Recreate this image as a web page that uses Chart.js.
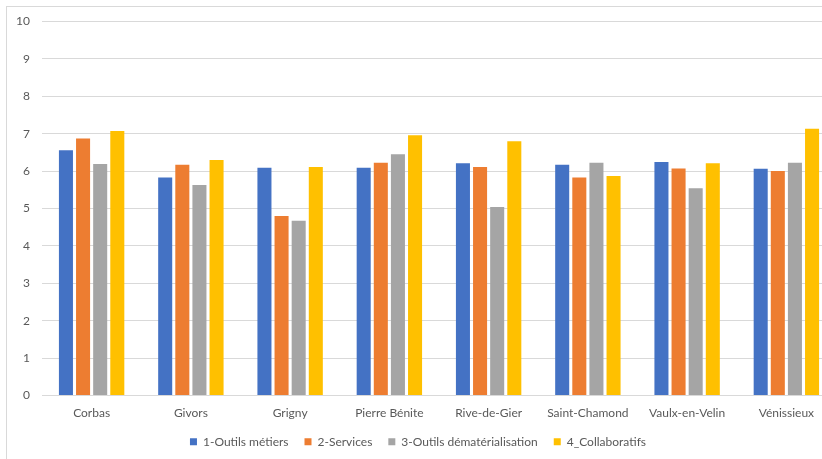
<!DOCTYPE html>
<html>
<head>
<meta charset="utf-8">
<script src="https://cdn.jsdelivr.net/npm/chart.js@4/dist/chart.umd.min.js"></script>
<style>
  body { margin: 0; overflow: hidden; background: #fff; }
  #frame { position: absolute; left: 6px; top: 6px; width: 900px; height: 500px; border: 1px solid #d9d9d9; }
  #myChart { position: absolute; left: 0; top: 0; }
</style>
</head>
<body>
<div id="frame"></div>
<canvas id="myChart" width="840" height="465"></canvas>
<script>
var villes = ['Corbas', 'Givors', 'Grigny', 'Pierre Bénite', 'Rive-de-Gier', 'Saint-Chamond', 'Vaulx-en-Velin', 'Vénissieux'];
var outilsMetiers = [6.56, 5.83, 6.09, 6.09, 6.21, 6.17, 6.24, 6.06];
var services = [6.87, 6.17, 4.80, 6.22, 6.11, 5.83, 6.07, 6.00];
var dematerialisation = [6.19, 5.63, 4.67, 6.45, 5.04, 6.22, 5.54, 6.22];
var collaboratifs = [7.07, 6.30, 6.11, 6.96, 6.80, 5.87, 6.21, 7.13];

Chart.defaults.font.family = 'Lato, "Liberation Sans", sans-serif';
Chart.defaults.font.size = 12;
Chart.defaults.color = '#595959';

var ctx = document.getElementById('myChart');
var myChart = new Chart(ctx, {
  type: 'bar',
  data: {
    labels: villes,
    datasets: [
      { label: '1-Outils métiers', data: outilsMetiers, backgroundColor: '#4472C4' },
      { label: '2-Services', data: services, backgroundColor: '#ED7D31' },
      { label: '3-Outils dématérialisation', data: dematerialisation, backgroundColor: '#A5A5A5' },
      { label: '4_Collaboratifs', data: collaboratifs, backgroundColor: '#FFC000' }
    ]
  },
  options: {
    responsive: false,
    animation: false,
    layout: { padding: { top: 21.5, right: 4, left: 0, bottom: 7.3 } },
    datasets: { bar: { categoryPercentage: 0.69, barPercentage: 0.82 } },
    scales: {
      x: {
        grid: { display: false },
        border: { display: false },
        ticks: { padding: 2 },
        afterFit: function (scale) { scale.height = 24.2; }
      },
      y: {
        min: 0,
        max: 10,
        ticks: { stepSize: 1, padding: 12 },
        grid: { color: '#d9d9d9', drawTicks: false },
        border: { display: false },
        afterFit: function (scale) { scale.width = 42; }
      }
    },
    plugins: {
      legend: {
        position: 'bottom',
        labels: { boxWidth: 7, boxHeight: 7, padding: 16 }
      },
      tooltip: { enabled: false }
    }
  }
});
</script>
</body>
</html>
